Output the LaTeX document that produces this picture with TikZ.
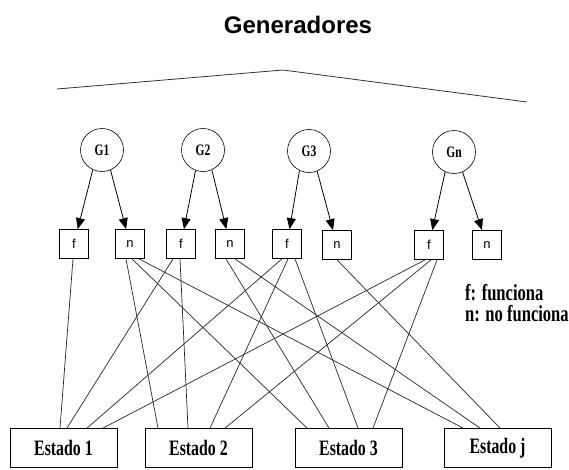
\documentclass[tikz,border=0pt]{standalone}
\usepackage{fontspec}
\setmainfont{Liberation Serif}
\newfontfamily\headfont{Liberation Sans}
\newfontfamily\narrowfont[FakeStretch=0.72]{Liberation Serif}
\usetikzlibrary{arrows.meta}

\begin{document}
\begin{tikzpicture}[x=1pt, y=-1pt,
  gen/.style={circle, draw=black, line width=0.6pt, minimum size=43pt,
              inner sep=0pt, font=\narrowfont\bfseries\fontsize{16}{16}\selectfont},
  stbox/.style={rectangle, draw=black, line width=0.8pt, minimum width=29pt,
              minimum height=29pt, inner sep=0pt,
              font=\headfont\fontsize{13}{13}\selectfont},
  estado/.style={rectangle, draw=black, line width=0.9pt, minimum width=107pt,
              minimum height=39pt, inner sep=0pt,
              font=\narrowfont\bfseries\fontsize{22}{22}\selectfont},
  arr/.style={-{Triangle[length=11pt, width=9pt]}, line width=0.8pt},
  wire/.style={line width=0.7pt, black!85},
  lbl/.style={align=left, inner sep=0pt,
              font=\narrowfont\bfseries\fontsize{23}{21}\selectfont}
]
\useasboundingbox (0,0) rectangle (569,469);

\node[font=\headfont\bfseries\fontsize{24}{24}\selectfont, anchor=base]
  (title) at (298,33) {Generadores};
\draw[line width=0.8pt, black!80] (57,89) -- (283,70) -- (527,102);

% generators
\node[gen] (g1) at (102,150) {G1};
\node[gen] (g2) at (203,150) {G2};
\node[gen] (g3) at (309,151) {G3};
\node[gen] (gn) at (454,152) {Gn};

% working / not working
\node[stbox] (f1) at (74,244)  {f};
\node[stbox] (n1) at (130,244) {n};
\node[stbox] (f2) at (181,244) {f};
\node[stbox] (n2) at (230,244) {n};
\node[stbox] (f3) at (287,244) {f};
\node[stbox] (n3) at (337,245) {n};
\node[stbox] (fn) at (429,245) {f};
\node[stbox] (nn) at (487,245) {n};

\draw[arr] (g1.245) -- (f1);
\draw[arr] (g1.293) -- (n1);
\draw[arr] (g2.250) -- (f2);
\draw[arr] (g2.294) -- (n2);
\draw[arr] (g3.244) -- (f3);
\draw[arr] (g3.292) -- (n3);
\draw[arr] (gn.246) -- (fn);
\draw[arr] (gn.293) -- (nn);

% states
\node[estado] (e1) at (63.5,448)  {Estado 1};
\node[estado] (e2) at (198.5,448) {Estado 2};
\node[estado] (e3) at (348.5,448) {Estado 3};
\node[estado] (ej) at (497.5,448) {Estado j};

% Estado 1
\draw[wire] ([xshift=-1pt]f1.south) -- ([xshift=-3.5pt]e1.north);
\draw[wire] ([xshift=-8pt]f2.south) -- ([xshift=3.5pt]e1.north);
\draw[wire] ([xshift=-5pt]f3.south) -- ([xshift=23.5pt]e1.north);
\draw[wire] ([xshift=-4pt]fn.south) -- ([xshift=39.5pt]e1.north);
% Estado 2
\draw[wire] ([xshift=-4pt]n1.south) -- ([xshift=-40.5pt]e2.north);
\draw[wire] ([xshift=-1pt]f2.south) -- ([xshift=-10.5pt]e2.north);
\draw[wire] ([xshift=1pt]f3.south) -- ([xshift=11.5pt]e2.north);
\draw[wire] ([xshift=2pt]fn.south) -- ([xshift=26.5pt]e2.north);
% Estado 3
\draw[wire] ([xshift=2pt]n1.south) -- ([xshift=-41.5pt]e3.north);
\draw[wire] ([xshift=-4pt]n2.south) -- ([xshift=-19.5pt]e3.north);
\draw[wire] ([xshift=8pt]f3.south) -- ([xshift=9.5pt]e3.north);
\draw[wire] ([xshift=8pt]fn.south) -- ([xshift=24.5pt]e3.north);
% Estado j
\draw[wire] ([xshift=9pt]n1.south) -- ([xshift=-34.5pt]ej.north);
\draw[wire] ([xshift=5pt]n2.south) -- ([xshift=-17.5pt]ej.north);
\draw[wire] (n3.south) -- ([xshift=2.5pt]ej.north);

\node[lbl, anchor=base west] (legend) at (465,321) {f: funciona\\n: no funciona};

\end{tikzpicture}
\end{document}
